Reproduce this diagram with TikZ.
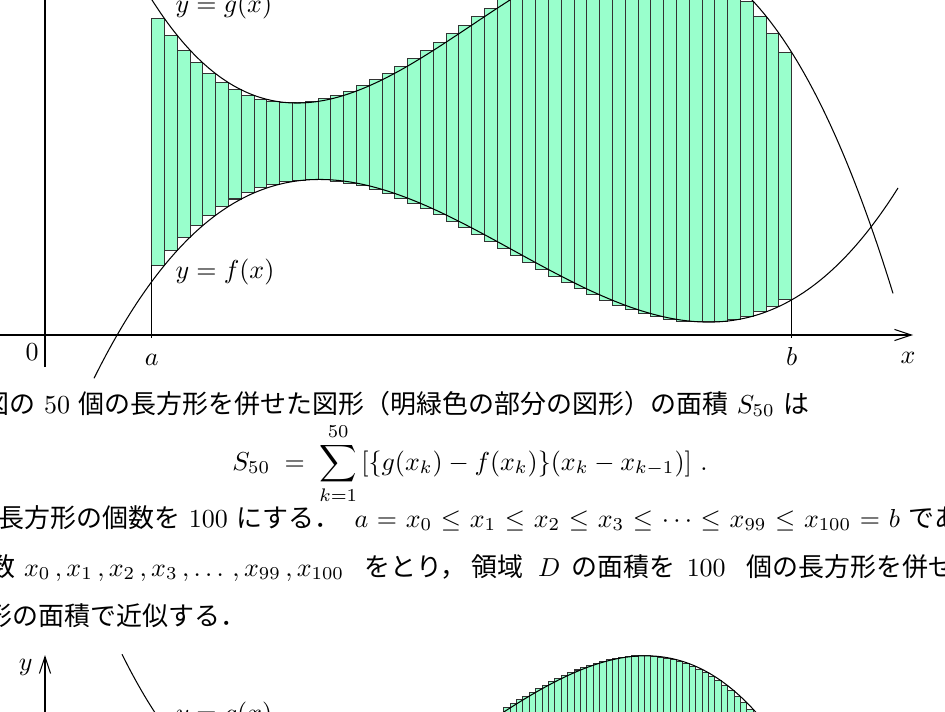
\documentclass[tikz,border=0pt]{standalone}
\usepackage{fontspec}
\newfontfamily\jpfont[Scale=1.0]{Noto Sans CJK JP}
\usetikzlibrary{arrows.meta}
\definecolor{mintgreen}{RGB}{153,255,204}
\newcommand{\jp}[1]{{\jpfont #1}}

\begin{document}
\begin{tikzpicture}[x=0.385pt, y=-0.385pt,
    strip/.style={draw=black!80, fill=mintgreen},
    curve/.style={black},
    axis/.style={-{Straight Barb[length=6.5pt, width=4.3pt]}},
    lbl/.style={inner sep=0pt},
    txt/.style={inner sep=0pt, anchor=base west},
    declare function={
        gx(\x)=7.332*(\x/100-5.1)*(\x/100-7.52)*(\x/100-1.52);
        fx(\x)=281.7-17.185*(\x/100-1.517)+10.513*(\x/100-1.517)*(\x/100-4.7)-4.8365*(\x/100-1.517)*(\x/100-4.7)*(\x/100-7.03);
    }
]
    \useasboundingbox (0,0) rectangle (945,712);
    \clip (0,0) rectangle (945,712);

    % Upper figure: 50 rectangles
    \foreach \k in {1,...,50} {
        \pgfmathsetmacro\xlo{151.7+(\k-1)*12.8}
        \pgfmathsetmacro\xhi{151.7+\k*12.8}
        \draw[strip] (\xlo,{gx(\xhi)}) rectangle (\xhi,{fx(\xhi)});
    }

    % Axes
    \coordinate (xstart) at (-5,335);
    \coordinate (xend) at (913,335);
    \coordinate (ystart) at (45,367);
    \coordinate (yend) at (45,-53);
    \draw[axis] (xstart) -- (xend);
    \draw[axis] (ystart) -- (yend);

    % Ticks at a and b
    \coordinate (atick) at (151.7,338);
    \coordinate (atop) at (151.7,{fx(164.5)});
    \coordinate (btick) at (791.7,338);
    \coordinate (btop) at (791.7,{fx(791.7)});
    \draw (atick) -- (atop);
    \draw (btick) -- (btop);

    % Curves
    \draw[curve] plot[domain=122:893, samples=150, smooth] (\x,{gx(\x)});
    \draw[curve] plot[domain=94:898, samples=150, smooth] (\x,{fx(\x)});

    % Labels
    \node[lbl, anchor=base] (zero) at (32,360) {$0$};
    \node[lbl, anchor=base] (alabel) at (151.7,365) {$a$};
    \node[lbl, anchor=base] (blabel) at (791.7,365) {$b$};
    \node[lbl, anchor=base] (xlabel) at (908,363) {$x$};
    \node[txt] (glabel) at (175,13) {$y=g(x)$};
    \node[txt] (flabel) at (175,278.5) {$y=f(x)$};

    % Text
    \node[txt] (line1) at (-17,413) {\jp{図の} 50 \jp{個の長方形を併せた図形（明緑色の部分の図形）の面積} $S_{50}$ \jp{は}};
    \node[lbl, anchor=base] (sumline) at (470,470) {$\displaystyle S_{50} \;=\; \sum_{k=1}^{50}\,[\{g(x_k)-f(x_k)\}(x_k-x_{k-1})]\ .$};
    \node[txt] (line3a) at (-2,527) {\jp{長方形の個数を} 100 \jp{にする．}};
    \node[txt] (line3b) at (354,527) {\thickmuskip=6mu $a=x_0\leq x_1\leq x_2\leq x_3\leq\cdots\leq x_{99}\leq x_{100}=b$ \jp{であ}};
    \node[txt] (line4a) at (-11,576) {\jp{数} $x_0\,,x_1\,,x_2\,,x_3\,,\ldots\,,x_{99}\,,x_{100}$};
    \node[txt] (line4b) at (364,576) {\jp{をとり，}\hspace{2pt}\jp{領域}\hspace{5.5pt}$D$\hspace{4.5pt}\jp{の面積を}\hspace{4.2pt}100\hspace{8pt}\jp{個の長方形を併せ}};
    \node[txt] (line5) at (-14,625) {\jp{形の面積で近似する．}};

    % Lower figure: 100 rectangles
    \begin{scope}[shift={(0,708)}]
        \foreach \k in {1,...,100} {
            \pgfmathsetmacro\xlo{151.7+(\k-1)*6.4}
            \pgfmathsetmacro\xhi{151.7+\k*6.4}
            \draw[strip] (\xlo,{gx(\xhi)}) rectangle (\xhi,{fx(\xhi)});
        }
        \draw[curve] plot[domain=122:893, samples=150, smooth] (\x,{gx(\x)});
        \coordinate (ystart2) at (45,367);
        \coordinate (yend2) at (45,-53);
        \draw[axis] (ystart2) -- (yend2);
        \node[lbl, anchor=base east] (ylabel) at (33,-38) {$y$};
        \node[txt] (glabel2) at (175,13) {$y=g(x)$};
    \end{scope}
\end{tikzpicture}
\end{document}
